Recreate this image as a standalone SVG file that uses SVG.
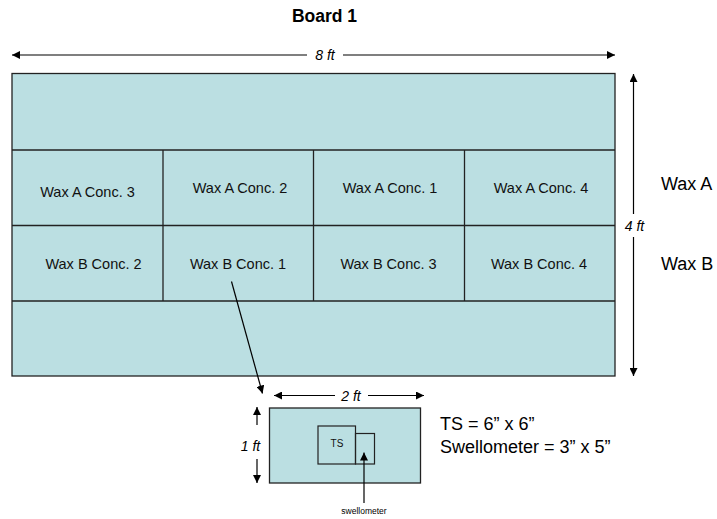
<svg xmlns="http://www.w3.org/2000/svg" width="717" height="519" viewBox="0 0 717 519">
<style>
.board{fill:#BBDFE2;stroke:#222;stroke-width:1.3}
.ln{stroke:#000;stroke-width:1.2;fill:none}
.cell{font-family:"Liberation Sans",Arial,sans-serif;font-size:14.5px;fill:#111;text-anchor:middle}
.dim{font-family:"Liberation Sans",Arial,sans-serif;font-size:14px;font-style:italic;fill:#000;text-anchor:middle}
.big{font-family:"Liberation Sans",Arial,sans-serif;font-size:18px;fill:#000}
</style>
<defs>
<marker id="ah" viewBox="0 0 10 10" refX="10" refY="5" markerWidth="8" markerHeight="8" markerUnits="userSpaceOnUse" orient="auto-start-reverse">
<path d="M0,0 L10,5 L0,10 z" fill="#000"/>
</marker>
</defs>
<rect width="717" height="519" fill="#fff"/>
<text x="324.5" y="21.5" font-family="Liberation Sans,Arial,sans-serif" font-size="17.5" font-weight="bold" text-anchor="middle">Board 1</text>

<g id="board">
<rect class="board" x="12" y="73.5" width="603" height="302.5"/>
<line class="board" x1="12" y1="150" x2="615" y2="150"/>
<line class="board" x1="12" y1="225.5" x2="615" y2="225.5"/>
<line class="board" x1="12" y1="301" x2="615" y2="301"/>
<line class="board" x1="163" y1="150" x2="163" y2="301"/>
<line class="board" x1="313.5" y1="150" x2="313.5" y2="301"/>
<line class="board" x1="464.5" y1="150" x2="464.5" y2="301"/>
</g>
<g id="cells">
<text class="cell" x="87.5" y="196.5">Wax A Conc. 3</text>
<text class="cell" x="240" y="192.5">Wax A Conc. 2</text>
<text class="cell" x="390" y="192.5">Wax A Conc. 1</text>
<text class="cell" x="541" y="192.5">Wax A Conc. 4</text>
<text class="cell" x="93.5" y="269">Wax B Conc. 2</text>
<text class="cell" x="238" y="269">Wax B Conc. 1</text>
<text class="cell" x="388.5" y="269">Wax B Conc. 3</text>
<text class="cell" x="539" y="269">Wax B Conc. 4</text>
</g>
<g id="rowlabels">
<text class="big" x="661" y="190" font-size="16.5">Wax A</text>
<text class="big" x="661" y="270" font-size="16.5">Wax B</text>
</g>

<g id="sample">
<rect class="board" x="269.5" y="408" width="151" height="75"/>
<rect x="318" y="426" width="37.5" height="38" fill="none" stroke="#222" stroke-width="1.2"/>
<rect x="355.5" y="433.5" width="19" height="30.5" fill="none" stroke="#222" stroke-width="1.2"/>
<text x="337" y="446.5" font-family="Liberation Sans,Arial,sans-serif" font-size="10" text-anchor="middle" fill="#111">TS</text>
<text x="364" y="514" font-family="Liberation Sans,Arial,sans-serif" font-size="8.5" text-anchor="middle" fill="#000">swellometer</text>
</g>
<g id="specs">
<text class="big" x="440" y="429.5">TS = 6” x 6”</text>
<text class="big" x="440" y="452.5">Swellometer = 3” x 5”</text>
</g>

<g id="connectors">
<line class="ln" x1="307" y1="55" x2="12" y2="55" marker-end="url(#ah)"/>
<line class="ln" x1="343" y1="55" x2="615" y2="55" marker-end="url(#ah)"/>
<text class="dim" x="325" y="60">8 ft</text>
<line class="ln" x1="633.5" y1="214" x2="633.5" y2="74" marker-end="url(#ah)"/>
<line class="ln" x1="633.5" y1="237" x2="633.5" y2="376" marker-end="url(#ah)"/>
<text class="dim" x="634.5" y="231">4 ft</text>
<line class="ln" x1="231.5" y1="281.5" x2="262.5" y2="393.5" marker-end="url(#ah)"/>
<line class="ln" x1="335" y1="395.5" x2="274" y2="395.5" marker-end="url(#ah)"/>
<line class="ln" x1="368" y1="395.5" x2="424" y2="395.5" marker-end="url(#ah)"/>
<text class="dim" x="351" y="401">2 ft</text>
<line class="ln" x1="257" y1="425" x2="257" y2="407" marker-end="url(#ah)"/>
<line class="ln" x1="257" y1="459" x2="257" y2="483" marker-end="url(#ah)"/>
<text class="dim" x="250.5" y="451">1 ft</text>
<line class="ln" x1="364" y1="503" x2="364" y2="452.5" marker-end="url(#ah)"/>
</g>
</svg>
